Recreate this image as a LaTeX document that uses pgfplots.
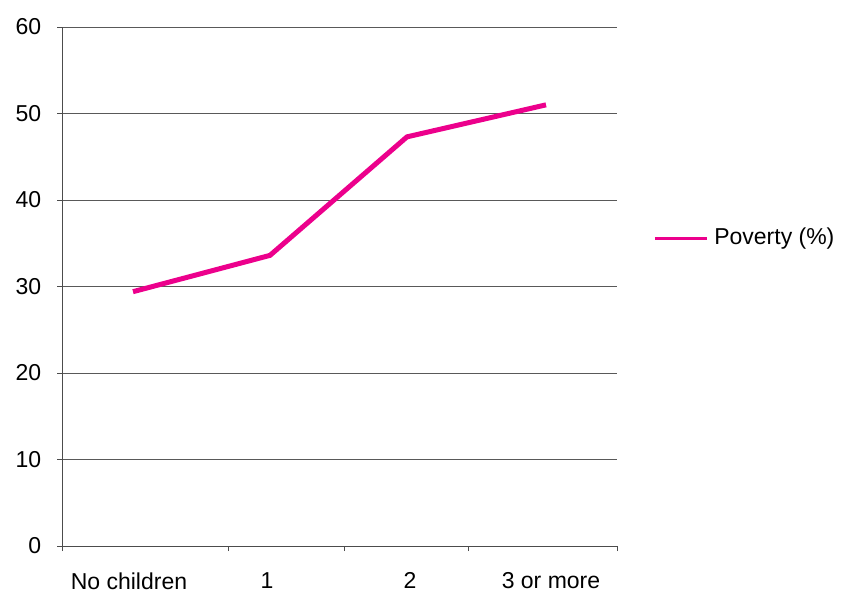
\documentclass[border=0pt]{standalone}
\usepackage{pgfplots}
\pgfplotsset{compat=1.18}
\usepackage{fontspec}
\setmainfont{Liberation Sans}
\definecolor{mag}{RGB}{236,0,140}
\begin{document}
\fontsize{23}{27}\selectfont
\begin{tikzpicture}[x=1pt,y=1pt]
\useasboundingbox (0,0) rectangle (843,595);
\begin{axis}[
  at={(62pt,49pt)}, anchor=south west,
  scale only axis, width=555pt, height=519pt,
  xmin=0, xmax=555, ymin=0, ymax=60,
  axis x line=bottom, axis y line=left,
  axis line style={-, draw=black!70, line width=0.8pt},
  ytick={0,10,...,60},
  ymajorgrids, grid style={black!65, line width=0.8pt},
  tick align=outside, major tick length=5pt,
  tick style={black!70, line width=0.8pt},
  xtick={0,166,282,406,555}, xticklabels={},
  extra x ticks={67,205,348,489},
  extra x tick labels={No children,1,2,3 or more},
  extra x tick style={major tick length=0pt, grid=none, xticklabel style={yshift=-19pt}},
  /pgf/number format/assume math mode=true,
  ticklabel style={font=\fontsize{23}{27}\selectfont},
  yticklabel style={xshift=-8pt},
  legend style={at={(1.065,0.593)}, anchor=west, draw=none, fill=none, inner sep=0pt,
    font=\fontsize{23}{27}\selectfont},
  legend image code/.code={\draw[#1, line width=3pt] (0pt,0pt) -- (52pt,0pt);},
  legend cell align=left,
  legend style={/tikz/every even column/.append style={column sep=0pt}, nodes={inner xsep=6pt}},
]
\addplot[color=mag, line width=5pt] coordinates {(71,29.4) (208,33.6) (345,47.3) (484,51.0)};
\addlegendentry{Poverty (\%)}
\end{axis}
\end{tikzpicture}
\end{document}
